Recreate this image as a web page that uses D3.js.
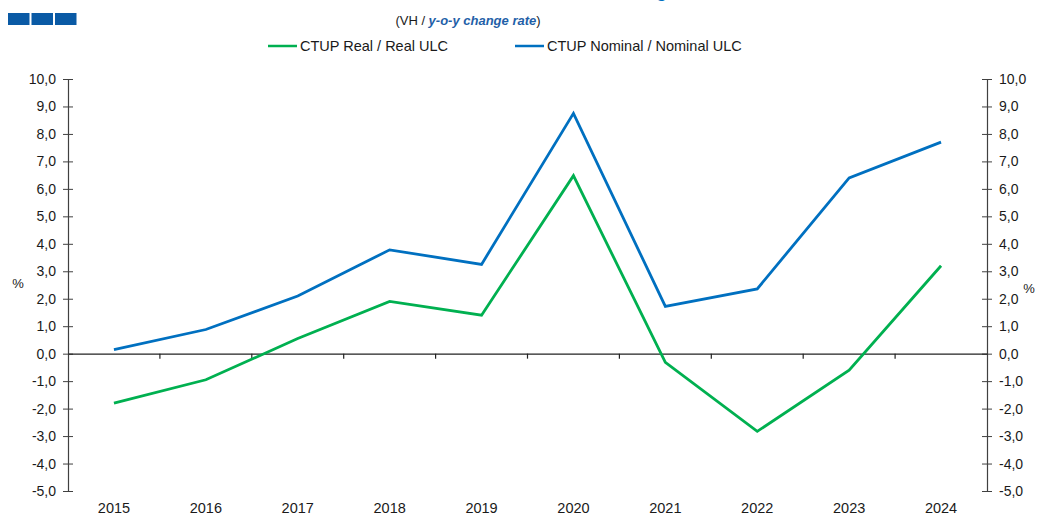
<!DOCTYPE html>
<html>
<head>
<meta charset="utf-8">
<script src="https://cdn.jsdelivr.net/npm/d3@7"></script>
<style>
  body { margin: 0; background: #fff; }
  text { font-family: "Liberation Sans", Arial, sans-serif; }
</style>
</head>
<body>
<div id="chart"></div>
<script>
//data
const years = ["2015", "2016", "2017", "2018", "2019", "2020", "2021", "2022", "2023", "2024"];
const realUlc = [-1.8, -0.95, 0.55, 1.9, 1.4, 6.48, -0.32, -2.83, -0.6, 3.2];
const nominalUlc = [0.15, 0.88, 2.1, 3.78, 3.25, 8.75, 1.72, 2.36, 6.4, 7.7];
const yTicks = [-5, -4, -3, -2, -1, 0, 1, 2, 3, 4, 5, 6, 7, 8, 9, 10];
const seriesNames = ["CTUP Real / Real ULC", "CTUP Nominal / Nominal ULC"];

const width = 1037,
    height = 515;

const margin = {left: 68, right: 50, top: 79, bottom: 24};

const green = "#00b050",
    blue = "#0070c0",
    axisColor = "#404040";

//comma decimal and plain hyphen for negatives
const locale = d3.formatLocale({decimal: ",", thousands: ".", grouping: [3], currency: ["", ""], minus: "-"});
const fmt = locale.format(".1f");

let svg = d3.select("#chart").append("svg")
    .attr("width", width)
    .attr("height", height);

let x = d3.scaleBand()
    .domain(years)
    .range([margin.left, width - margin.right]);

let y = d3.scaleLinear()
    .domain([-5, 10])
    .range([height - margin.bottom, margin.top]);

//title cut off at top of picture, only descender shows
svg.append("text")
    .attr("x", 677)
    .attr("y", -3)
    .attr("text-anchor", "end")
    .attr("fill", blue)
    .style("font-size", "18px")
    .style("font-weight", "bold")
    .text("Unit Labour Cost Deflator: Real and Nominal Change");

//logo squares
svg.selectAll(".logo")
    .data([0, 1, 2])
  .enter()
    .append("rect")
    .attr("x", d => 8 + d * 23.5)
    .attr("y", 13)
    .attr("width", 21.5)
    .attr("height", 12)
    .attr("fill", "#0a5aa5");

//subtitle
let sub = svg.append("text")
    .attr("x", 468)
    .attr("y", 25)
    .attr("text-anchor", "middle")
    .style("font-size", "13px");
sub.append("tspan").attr("fill", "#1a1a1a").text("(VH / ");
sub.append("tspan")
    .attr("fill", "#1f5fa8")
    .style("font-weight", "bold")
    .style("font-style", "italic")
    .text("y-o-y change rate");
sub.append("tspan").attr("fill", "#1a1a1a").text(")");

//legend
const legendPos = [268, 515];
let legend = svg.selectAll(".legend")
    .data(seriesNames)
  .enter()
    .append("g")
    .attr("class", "legend")
    .attr("transform", (d, i) => "translate(" + legendPos[i] + ",46)");

legend.append("line")
    .attr("x1", 0)
    .attr("x2", 29)
    .attr("stroke", (d, i) => i === 0 ? green : blue)
    .attr("stroke-width", 2.5);

legend.append("text")
    .attr("x", 32)
    .attr("y", 5)
    .style("font-size", "14.5px")
    .attr("fill", "#1a1a1a")
    .text(d => d);

//left axis
let yLeft = svg.append("g")
    .attr("transform", "translate(" + margin.left + ",0)")
    .call(d3.axisLeft(y).tickValues(yTicks).tickFormat(fmt).tickSizeInner(5).tickSizeOuter(0));

//right axis
let yRight = svg.append("g")
    .attr("transform", "translate(" + (width - margin.right) + ",0)")
    .call(d3.axisRight(y).tickValues(yTicks).tickFormat(fmt).tickSizeInner(5).tickSizeOuter(0));

[yLeft, yRight].forEach(function(g, i) {
  g.select(".domain").attr("stroke", axisColor).attr("stroke-width", 1.2);
  //ticks cross the axis line
  g.selectAll(".tick line")
    .attr("x1", -5).attr("x2", 5)
    .attr("stroke", axisColor);
  g.selectAll(".tick text")
    .style("font-size", "14px")
    .attr("fill", "#1a1a1a")
    .attr("x", i === 0 ? -12 : 12)
    .style("font-family", "'Liberation Sans', Arial, sans-serif");
});

svg.append("text")
    .attr("x", 18)
    .attr("y", 288)
    .attr("text-anchor", "middle")
    .style("font-size", "13px")
    .attr("fill", "#1a1a1a")
    .text("%");

svg.append("text")
    .attr("x", 1029)
    .attr("y", 293)
    .attr("text-anchor", "middle")
    .style("font-size", "13px")
    .attr("fill", "#1a1a1a")
    .text("%");

//zero line with category ticks
let xAxis = svg.append("g")
    .attr("transform", "translate(0," + y(0) + ")")
    .call(d3.axisBottom(x).tickSizeOuter(0).tickFormat(""));

xAxis.select(".domain").attr("stroke", "#222").attr("stroke-width", 1.4);
xAxis.selectAll(".tick").remove();

xAxis.selectAll(".sep")
    .data(years.slice(1))
  .enter()
    .append("line")
    .attr("x1", d => x(d))
    .attr("x2", d => x(d))
    .attr("y1", 0)
    .attr("y2", 5)
    .attr("stroke", "#222")
    .attr("stroke-width", 1.2);

//year labels at bottom
svg.selectAll(".year")
    .data(years)
  .enter()
    .append("text")
    .attr("x", d => x(d) + x.bandwidth() / 2)
    .attr("y", 513)
    .attr("text-anchor", "middle")
    .style("font-size", "14.5px")
    .attr("fill", "#1a1a1a")
    .text(d => d);

//lines
let line = d3.line()
    .x((d, i) => x(years[i]) + x.bandwidth() / 2)
    .y(d => y(d));

[[realUlc, green], [nominalUlc, blue]].forEach(function(s) {
  svg.append("path")
    .datum(s[0])
    .attr("d", line)
    .attr("fill", "none")
    .attr("stroke", s[1])
    .attr("stroke-width", 2.8)
    .attr("stroke-linejoin", "miter");
});
</script>
</body>
</html>
